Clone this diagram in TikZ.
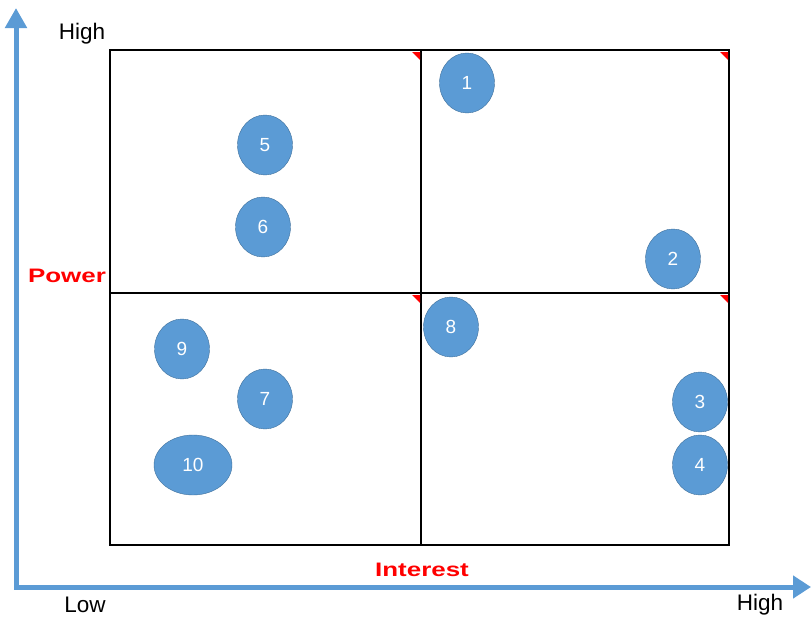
\documentclass[tikz,border=0pt]{standalone}
\usepackage{fontspec}
\setmainfont{Liberation Sans}
\usetikzlibrary{arrows.meta,shapes.geometric}
\definecolor{stkblue}{RGB}{91,155,213}
\definecolor{stkedge}{RGB}{65,113,156}
\tikzset{stk/.style={ellipse, draw=stkedge, fill=stkblue, text=white,
  minimum width=55pt, minimum height=60pt, inner sep=0pt,
  font=\fontsize{19}{19}\selectfont},
  axislbl/.style={font=\fontsize{22.5}{22.5}\selectfont},
  dimlbl/.style={text=red, xscale=1.33, font=\fontsize{19.5}{19.5}\selectfont\bfseries},
  corner/.style={fill=red, draw=none}}

\begin{document}
\begin{tikzpicture}[x=1pt, y=-1pt, line join=miter]
  \useasboundingbox (0,0) rectangle (811,616);
  % axes
  \coordinate (origin) at (16,587);
  \coordinate (ytip) at (16,8);
  \coordinate (xtip) at (811,587);
  \draw[stkblue, line width=5pt, {Triangle[length=20pt,width=21pt]}-{Triangle[length=18pt,width=22pt]}]
    (ytip) -- (origin) -- (xtip);
  % quadrant grid
  \coordinate (nw) at (110,50);
  \coordinate (n) at (421,50);
  \coordinate (ne) at (729,50);
  \coordinate (w) at (110,293);
  \coordinate (c) at (421,293);
  \coordinate (e) at (729,293);
  \coordinate (sw) at (110,545);
  \coordinate (s) at (421,545);
  \coordinate (se) at (729,545);
  \draw[line width=2.6pt] (nw) rectangle (se);
  \draw[line width=2.6pt] (n) -- (s);
  \draw[line width=2.6pt] (w) -- (e);
  % red corner marks
  \foreach \k in {n,ne,c,e}
    \fill[corner] (\k) ++(-9,2) -- ++(8,0) -- ++(0,8) -- cycle;
  % stakeholders
  \node[stk] (p1) at (467,83) {1};
  \node[stk] (p2) at (673,259) {2};
  \node[stk] (p3) at (700,402) {3};
  \node[stk] (p4) at (700,465) {4};
  \node[stk] (p5) at (265,145) {5};
  \node[stk] (p6) at (263,227) {6};
  \node[stk] (p7) at (265,399) {7};
  \node[stk] (p8) at (451,327) {8};
  \node[stk] (p9) at (182,349) {9};
  \node[stk, minimum width=78pt] (p10) at (193,465) {10};
  % labels
  \node[axislbl] (yhigh) at (82,34) {High};
  \node[axislbl] (xlow) at (85,605) {Low};
  \node[axislbl] (xhigh) at (760,605) {High};
  \node[dimlbl] (power) at (67,276) {Power};
  \node[dimlbl] (interest) at (422,570) {Interest};
\end{tikzpicture}
\end{document}
